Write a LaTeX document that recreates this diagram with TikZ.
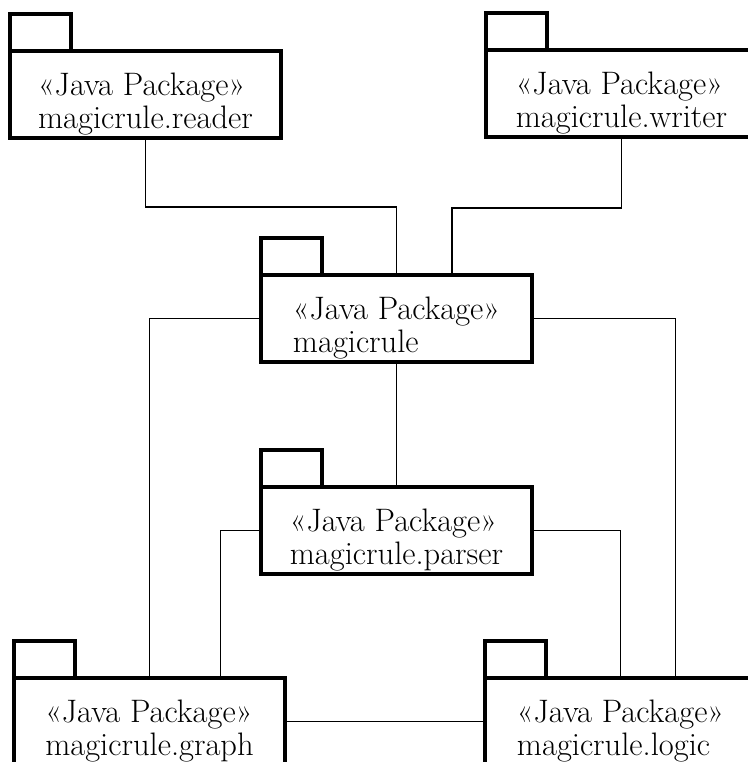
\documentclass[tikz,border=0pt]{standalone}
\usepackage{fontspec}
\begin{document}
\begin{tikzpicture}[x=1pt,y=-1pt,
  pkgbody/.style={draw, line width=4pt, minimum width=271pt, minimum height=87pt,
    inner sep=0pt, outer sep=0pt, anchor=north west},
  pkgtab/.style={draw, line width=4pt, minimum width=61pt, minimum height=37pt,
    inner sep=0pt, outer sep=0pt, anchor=south west},
  pkgtext/.style={font=\fontsize{32.5}{33}\selectfont, align=left,
    inner sep=0pt, anchor=north},
  link/.style={line width=1.8pt}]
\useasboundingbox (0,0) rectangle (747,762);

% package bodies, tabs and labels
\node[pkgbody] (reader) at (10,51) {};
\node[pkgtab]  (readertab) at (reader.north west) {};
\node[pkgtext] (readerlbl) at ([yshift=-22pt]reader.north) {«Java Package»\\magicrule.reader};

\node[pkgbody] (writer) at (486,50) {};
\node[pkgtab]  (writertab) at (writer.north west) {};
\node[pkgtext] (writerlbl) at ([yshift=-22pt]writer.north) {«Java Package»\\magicrule.writer};

\node[pkgbody] (mr) at (261,275) {};
\node[pkgtab]  (mrtab) at (mr.north west) {};
\node[pkgtext] (mrlbl) at ([yshift=-22pt]mr.north) {«Java Package»\\magicrule};

\node[pkgbody] (parser) at (261,487) {};
\node[pkgtab]  (parsertab) at (parser.north west) {};
\node[pkgtext] (parserlbl) at ([yshift=-22pt]parser.north) {«Java Package»\\magicrule.parser};

\node[pkgbody] (graph) at (14,678) {};
\node[pkgtab]  (graphtab) at (graph.north west) {};
\node[pkgtext] (graphlbl) at ([yshift=-22pt]graph.north) {«Java Package»\\magicrule.graph};

\node[pkgbody] (logic) at (485,678) {};
\node[pkgtab]  (logictab) at (logic.north west) {};
\node[pkgtext] (logiclbl) at ([yshift=-22pt]logic.north) {«Java Package»\\magicrule.logic};

% dependencies
\draw[link] (reader.south) -- ++(0,69) -| (mr.north);
\draw[link] (writer.south) -- ++(0,71) -| ([xshift=55.5pt]mr.north);
\draw[link] (mr.south) -- (parser.north);
\draw[link] (mr.west) -| (graph.north);
\draw[link] (mr.east) -| ([xshift=55pt]logic.north);
\draw[link] (parser.west) -| ([xshift=71pt]graph.north);
\draw[link] (parser.east) -| (logic.north);
\draw[link] (graph.east) -- (logic.west);
\end{tikzpicture}
\end{document}
